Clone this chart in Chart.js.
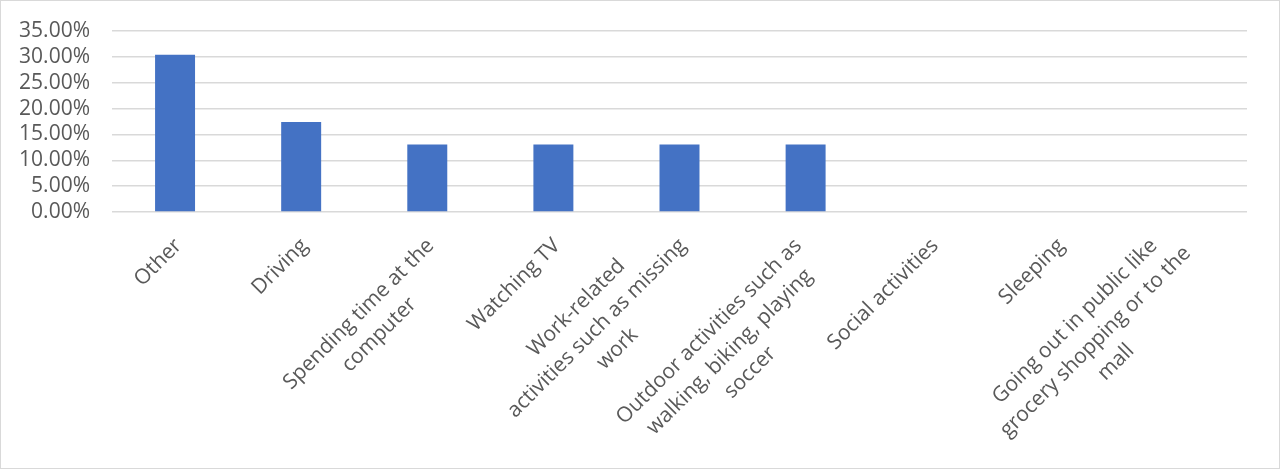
<!DOCTYPE html>
<html>
<head>
<meta charset="utf-8">
<script src="https://cdn.jsdelivr.net/npm/chart.js@4.4.0/dist/chart.umd.min.js"></script>
<style>
  html, body { margin: 0; padding: 0; background: #fff; }
  #wrap { position: relative; width: 1280px; height: 469px; box-sizing: border-box; border: 1px solid #d9d9d9; }
  canvas { display: block; }
</style>
</head>
<body>
<div id="wrap"><canvas id="chart" width="1278" height="467"></canvas></div>
<script>
const categories = [
  ['Other'],
  ['Driving'],
  ['Spending time at the', 'computer'],
  ['Watching TV'],
  ['Work-related', 'activities such as missing', 'work'],
  ['Outdoor activities such as', 'walking, biking, playing', 'soccer'],
  ['Social activities'],
  ['Sleeping'],
  ['Going out in public like', 'grocery shopping or to the', 'mall']
];
const shares = [0.3043, 0.1739, 0.1304, 0.1304, 0.1304, 0.1304, 0, 0, 0];
const yTicksMax = 0.35;
const yTicksStep = 0.05;

const labelFont = '21px "Open Sans"';
const textColor = '#595959';

// category labels, Excel style: rotated 45deg, lines centred,
// rotated block's top-right bounding corner sits at the tick
const slantedLabels = {
  id: 'slantedLabels',
  afterDraw(chart) {
    const ctx = chart.ctx;
    const xs = chart.scales.x;
    const topY = chart.chartArea.bottom + 24;
    const lineH = 29;
    const asc = 15;
    const k = Math.SQRT1_2;
    ctx.save();
    ctx.font = labelFont;
    ctx.fillStyle = textColor;
    ctx.textAlign = 'center';
    ctx.textBaseline = 'alphabetic';
    categories.forEach((lines, i) => {
      const widths = lines.map(l => ctx.measureText(l).width);
      // top-right corner of each line, rotated, relative to block origin
      const ends = widths.map((w, j) => {
        const lx = w / 2, ly = j * lineH - asc;
        return [k * (lx + ly), k * (ly - lx)];
      });
      const maxX = Math.max(...ends.map(e => e[0]));
      const minY = Math.min(...ends.map(e => e[1]));
      const ox = xs.getPixelForValue(i) - 3 - maxX;
      const oy = topY - minY;
      ctx.save();
      ctx.translate(ox, oy);
      ctx.rotate(-Math.PI / 4);
      lines.forEach((l, j) => ctx.fillText(l, 0, j * lineH));
      ctx.restore();
    });
    ctx.restore();
  }
};

const ctx = document.getElementById('chart').getContext('2d');
new Chart(ctx, {
  type: 'bar',
  data: {
    labels: categories.map(c => c.join(' ')),
    datasets: [{
      data: shares,
      backgroundColor: '#4472C4',
      borderWidth: 0,
      barPercentage: 0.317,
      categoryPercentage: 1
    }]
  },
  options: {
    responsive: false,
    animation: false,
    devicePixelRatio: 1,
    layout: { padding: { left: 0, right: 32, top: 30, bottom: 248 } },
    plugins: {
      legend: { display: false },
      tooltip: { enabled: false }
    },
    scales: {
      x: {
        grid: { display: false },
        border: { display: false },
        ticks: { display: false }
      },
      y: {
        min: 0,
        max: yTicksMax,
        afterFit(scale) {
          scale.width = 111;
          scale.paddingTop = 0;
          scale.paddingBottom = 0;
        },
        ticks: {
          stepSize: yTicksStep,
          autoSkip: false,
          padding: 22,
          color: textColor,
          font: { family: 'Open Sans', size: 21 },
          callback: v => (v * 100).toFixed(2) + '%'
        },
        grid: { color: '#d9d9d9', lineWidth: 1.5, drawTicks: false },
        border: { display: false }
      }
    }
  },
  plugins: [slantedLabels]
});
</script>
</body>
</html>
